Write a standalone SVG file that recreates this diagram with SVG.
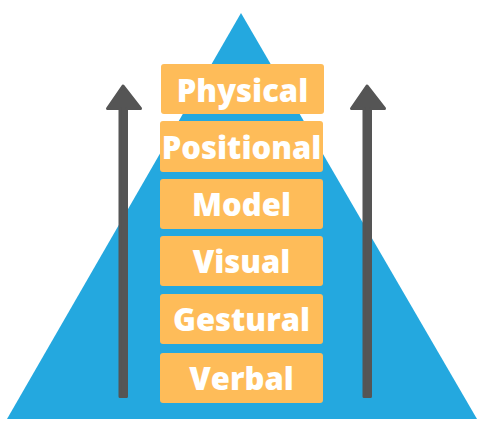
<svg xmlns="http://www.w3.org/2000/svg" width="483" height="436" viewBox="0 0 483 436">
<style>
.box{fill:#FEBC59;}
.lbl{font-family:"Open Sans",sans-serif;font-weight:800;font-size:31px;fill:#fff;text-anchor:middle;}
.arr{fill:#555555;stroke:#555555;stroke-linejoin:round;stroke-width:3;}
</style>
<rect width="483" height="436" fill="#fff"/>
<polygon id="pyramid" points="241,13 477,419 7,419" fill="#24A8DF"/>
<g id="connectors">
<polygon class="arr" points="120,396.5 126.5,396.5 126.5,108.5 140.5,108.5 123,86 107.5,108.5 120,108.5"/>
<polygon class="arr" points="364,396.5 370.5,396.5 370.5,108.5 384.5,108.5 367,86 351.5,108.5 364,108.5"/>
</g>
<g id="physical"><rect class="box" x="161" y="64" width="163" height="50" rx="3"/><text class="lbl" x="242.5" y="101.5">Physical</text></g>
<g id="positional"><rect class="box" x="160" y="121" width="163" height="51" rx="3"/><text class="lbl" x="241.5" y="159">Positional</text></g>
<g id="model"><rect class="box" x="160" y="179" width="163" height="50" rx="3"/><text class="lbl" x="241.5" y="216">Model</text></g>
<g id="visual"><rect class="box" x="160" y="236" width="163" height="50" rx="3"/><text class="lbl" x="241.5" y="273">Visual</text></g>
<g id="gestural"><rect class="box" x="160" y="294" width="163" height="50" rx="3"/><text class="lbl" x="241.5" y="331">Gestural</text></g>
<g id="verbal"><rect class="box" x="160" y="353" width="163" height="50" rx="3"/><text class="lbl" x="241.5" y="390">Verbal</text></g>
</svg>
